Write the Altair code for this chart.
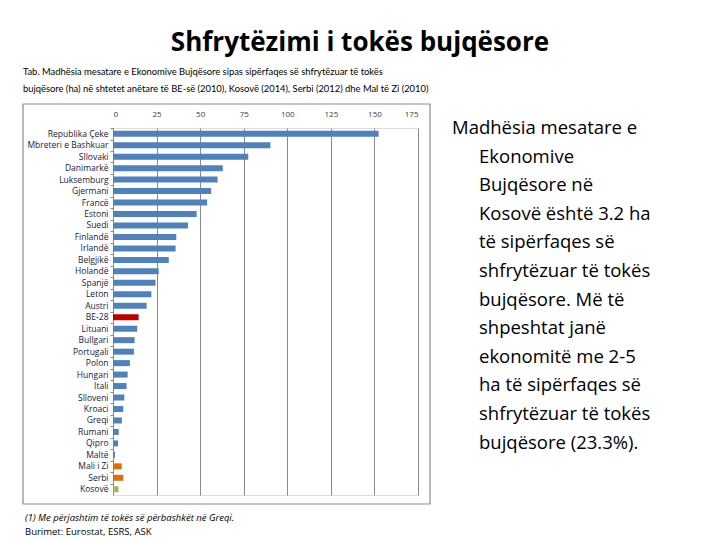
import altair as alt
import pandas as pd

countries = ["Republika Çeke", "Mbreteri e Bashkuar", "Sllovaki", "Danimarkë", "Luksemburg",
             "Gjermani", "Francë", "Estoni", "Suedi", "Finlandë", "Irlandë", "Belgjikë",
             "Holandë", "Spanjë", "Leton", "Austri", "BE-28", "Lituani", "Bullgari",
             "Portugali", "Polon", "Hungari", "Itali", "Slloveni", "Kroaci", "Greqi",
             "Rumani", "Qipro", "Maltë", "Mali i Zi", "Serbi", "Kosovë"]
values = [152.4, 90.3, 77.6, 63.0, 60.0, 56.3, 54.0, 48.0, 43.0, 36.3, 35.9, 32.0,
          26.2, 24.4, 22.0, 19.3, 14.7, 13.9, 12.4, 12.0, 9.7, 8.4, 7.8, 6.5, 5.9, 5.1,
          3.3, 2.9, 1.1, 5.0, 5.9, 3.2]
groups = ["EU"] * 16 + ["BE"] + ["EU"] * 12 + ["Rajon", "Rajon", "Kosovo"]
group_names = ["EU", "BE", "Rajon", "Kosovo"]
group_colors = ["#4f81bd", "#c00000", "#e46c0a", "#9bbb59"]
x_ticks = [0, 25, 50, 75, 100, 125, 150, 175]

title_text = "Shfrytëzimi i tokës bujqësore"
caption_lines = ["Tab. Madhësia mesatare e Ekonomive Bujqësore sipas sipërfaqes së shfrytëzuar të tokës",
                 "bujqësore (ha) në shtetet anëtare të BE-së (2010), Kosovë (2014), Serbi (2012) dhe Mal të Zi (2010)"]
side_lines = ["Madhësia mesatare e", "Ekonomive", "Bujqësore në", "Kosovë është 3.2 ha",
              "të sipërfaqes së", "shfrytëzuar të tokës", "bujqësore. Më të",
              "shpeshtat janë", "ekonomitë me 2-5", "ha të sipërfaqes së",
              "shfrytëzuar të tokës", "bujqësore (23.3%)."]
foot_note = "(1) Me përjashtim të tokës së përbashkët në Greqi."
foot_source = "Burimet: Eurostat, ESRS, ASK"

df = pd.DataFrame({"country": countries, "value": values, "group": groups})

W, H = 305, 367

bars = alt.Chart(df).mark_bar(size=6).encode(
    x=alt.X("value:Q", scale=alt.Scale(domain=[0, 175], nice=False),
            axis=alt.Axis(orient="top", values=x_ticks, title=None, grid=True,
                          gridColor="#8a8a8a", domain=False, ticks=False,
                          labelFontSize=8, labelColor="#404040", labelPadding=10,
                          labelFont="Open Sans")),
    y=alt.Y("country:N", sort=countries,
            axis=alt.Axis(title=None, domainColor="#8a8a8a", tickColor="#8a8a8a",
                          tickSize=3, labelFontSize=8.5, labelColor="#202040",
                          labelPadding=2, labelFont="Open Sans", bandPosition=0)),
    color=alt.Color("group:N", scale=alt.Scale(domain=group_names, range=group_colors),
                    legend=None),
)

frame = alt.Chart(pd.DataFrame({"a": [0]})).mark_rect(
    fillOpacity=0, stroke="#8a8a8a", strokeWidth=1.2
).encode(x=alt.value(-90), x2=alt.value(317), y=alt.value(-24), y2=alt.value(376))

title = alt.Chart(pd.DataFrame({"t": [title_text]})).mark_text(
    font="Open Sans", fontSize=26, fontWeight="bold", align="center", baseline="alphabetic",
    color="#000000"
).encode(x=alt.value(247), y=alt.value(-77), text="t:N")

cap_layers = []
for i, line in enumerate(caption_lines):
    cap_layers.append(alt.Chart(pd.DataFrame({"t": [line]})).mark_text(
        font="Lato", fontSize=9.4, align="left", baseline="middle", color="#000000"
    ).encode(x=alt.value(-90), y=alt.value(-56 + 17 * i), text="t:N"))

side_layers = []
for i, line in enumerate(side_lines):
    side_layers.append(alt.Chart(pd.DataFrame({"t": [line]})).mark_text(
        font="Open Sans", fontSize=18.5, align="left", baseline="middle", color="#000000"
    ).encode(x=alt.value(339 if i == 0 else 366), y=alt.value(28.6 * i), text="t:N"))

foot1 = alt.Chart(pd.DataFrame({"t": [foot_note]})).mark_text(
    font="Open Sans", fontSize=9.5, fontStyle="italic", align="left", baseline="middle",
    color="#000000"
).encode(x=alt.value(-88), y=alt.value(390), text="t:N")
foot2 = alt.Chart(pd.DataFrame({"t": [foot_source]})).mark_text(
    font="Open Sans", fontSize=9.5, align="left", baseline="middle", color="#000000"
).encode(x=alt.value(-88), y=alt.value(404), text="t:N")

chart = alt.layer(frame, bars, title, *cap_layers, *side_layers, foot1, foot2).properties(
    width=W, height=H,
    autosize=alt.AutoSizeParams(type="none"),
    padding={"left": 105, "top": 120, "right": 294, "bottom": 44},
).configure_view(stroke=None).configure(background="white")

chart.save("out.html", embed_options={"renderer": "svg", "actions": False})
